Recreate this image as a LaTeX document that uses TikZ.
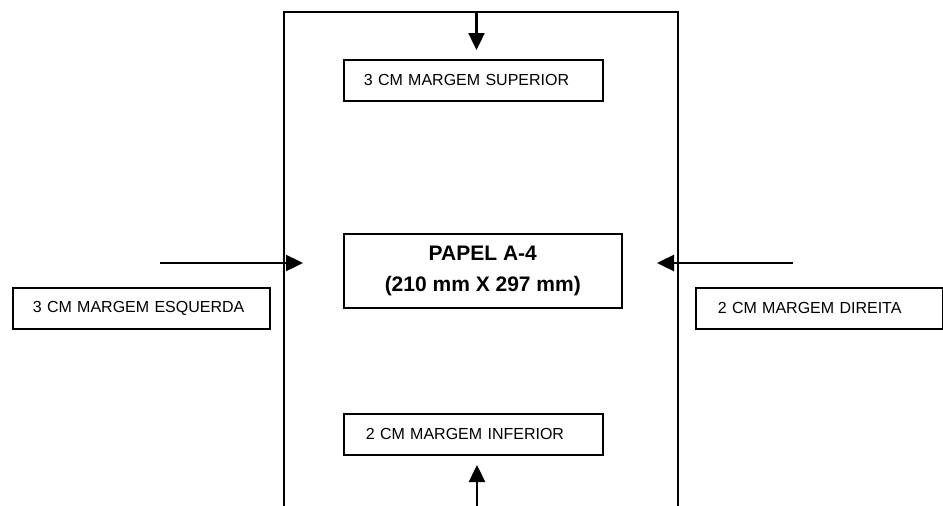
\documentclass[tikz,border=0pt]{standalone}
\usepackage{fontspec}
\setmainfont{Liberation Sans}
\usetikzlibrary{arrows.meta}
\begin{document}
\begin{tikzpicture}[x=1pt,y=-1pt,
  lbl/.style={draw, line width=1.6pt, anchor=north west, align=left, inner xsep=20pt, inner ysep=0pt, minimum height=41pt, font=\fontsize{16}{19}\selectfont},
  mainbox/.style={draw, line width=1.6pt, anchor=north west, align=center, inner sep=0pt, minimum width=278pt, minimum height=74pt, font=\fontsize{21}{31}\selectfont\bfseries},
  arr/.style={line width=2.4pt, -{Triangle[length=17pt,width=16pt]}},
  pageline/.style={line width=1.6pt}]
\useasboundingbox (0,0) rectangle (943,506);
% page outline (open at the bottom)
\coordinate (pbl) at (284,506);
\coordinate (ptl) at (284,12);
\coordinate (ptr) at (678,12);
\coordinate (pbr) at (678,506);
\draw[pageline] (pbl) -- (ptl) -- (ptr) -- (pbr);
% boxes
\node[lbl, text width=219pt] (sup) at (343,59) {3 CM MARGEM SUPERIOR};
\node[lbl, text width=217pt] (esq) at (12,287) {3 CM MARGEM ESQUERDA};
\node[lbl, text width=203pt, inner xsep=22pt] (dir) at (695,287) {2 CM MARGEM DIREITA};
\node[lbl, text width=215pt, inner xsep=22pt] (inf) at (343,413) {2 CM MARGEM INFERIOR};
\node[mainbox] (papel) at (343,233) {PAPEL A-4\\(210 mm X 297 mm)};
% arrows
\coordinate (ta) at (476.5,12);
\coordinate (tb) at (476.5,50);
\coordinate (la) at (160,263);
\coordinate (lb) at (303,263);
\coordinate (ra) at (793,263);
\coordinate (rb) at (657,263);
\coordinate (ba) at (477,506);
\coordinate (bb) at (477,465);
\draw[arr] (ta) -- (tb);
\draw[arr] (la) -- (lb);
\draw[arr] (ra) -- (rb);
\draw[arr] (ba) -- (bb);
\end{tikzpicture}
\end{document}
